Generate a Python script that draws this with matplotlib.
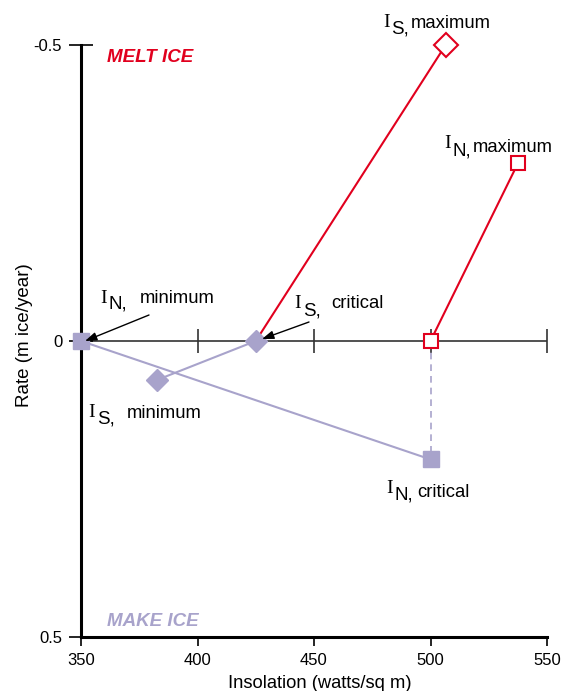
import matplotlib
matplotlib.use("Agg")
import matplotlib.pyplot as plt

plt.rcParams['font.family'] = ['Liberation Sans', 'DejaVu Sans']

# ---- data ----
xticks = [350, 400, 450, 500, 550]
yticks = [-0.5, 0, 0.5]
ytick_labels = ["-0.5", "0", "0.5"]

# I_N (north) : minimum, critical, maximum
in_min = (350, 0.0)
in_crit = (500, 0.2)
in_crit_zero = (500, 0.0)
in_max = (537.5, -0.3)
# I_S (south)
is_min = (382.5, 0.066)
is_crit = (425, 0.0)
is_max = (506.5, -0.5)

RED = "#E1001E"
PURPLE = "#A8A3CB"
W, H = 562, 691

fig = plt.figure(figsize=(W / 100, H / 100), dpi=100)
ax = fig.add_axes([81 / W, 1 - 637 / H, (547 - 81) / W, (637 - 45) / H])

ax.set_xlim(350, 550)
ax.set_ylim(0.5, -0.5)

# zero line with cross ticks
ax.axhline(0, color="#333333", lw=1.2, zorder=1)
ax.plot(xticks[1:], [0] * (len(xticks) - 1), ls="none", marker="|",
        ms=17, mew=1.2, color="#333333", zorder=1)

# purple (make ice) lines
ax.plot([in_min[0], in_crit[0]], [in_min[1], in_crit[1]], color=PURPLE, lw=1.5, zorder=2)
ax.plot([is_min[0], is_crit[0]], [is_min[1], is_crit[1]], color=PURPLE, lw=1.5, zorder=2)
ax.plot([in_crit_zero[0], in_crit[0]], [in_crit_zero[1], in_crit[1]], color=PURPLE,
        lw=1.2, ls=(0, (4, 3)), zorder=2)
# red (melt ice) lines
ax.plot([is_crit[0], is_max[0]], [is_crit[1], is_max[1]], color=RED, lw=1.5, zorder=2)
ax.plot([in_crit_zero[0], in_max[0]], [in_crit_zero[1], in_max[1]], color=RED, lw=1.5, zorder=2)

# markers
ax.plot([in_min[0], in_crit[0]], [in_min[1], in_crit[1]], ls="none", marker="s",
        ms=12, color=PURPLE, mec=PURPLE, zorder=4, clip_on=False)
ax.plot([is_min[0], is_crit[0]], [is_min[1], is_crit[1]], ls="none", marker="D",
        ms=11.5, color=PURPLE, mec=PURPLE, zorder=4, clip_on=False)
ax.plot([in_crit_zero[0], in_max[0]], [in_crit_zero[1], in_max[1]], ls="none", marker="s",
        ms=10, mfc="white", mec=RED, mew=1.5, zorder=4, clip_on=False)
ax.plot([is_max[0]], [is_max[1]], ls="none", marker="D",
        ms=12, mfc="white", mec=RED, mew=1.5, zorder=4, clip_on=False)

# spines / ticks
for s in ["top", "right"]:
    ax.spines[s].set_visible(False)
ax.spines["left"].set_linewidth(2.2)
ax.spines["bottom"].set_linewidth(2.2)
ax.set_xticks(xticks)
ax.set_xticklabels([str(v) for v in xticks])
ax.set_yticks(yticks)
ax.set_yticklabels(ytick_labels)
ax.tick_params(axis="y", direction="inout", length=17, width=1.2, pad=5, labelsize=12)
ax.tick_params(axis="x", direction="out", length=6.5, width=1.2, pad=5, labelsize=12)
ax.set_xlabel("Insolation (watts/sq m)", fontsize=13.2)
ax.set_ylabel("Rate (m ice/year)", fontsize=13.5)
ax.xaxis.set_label_coords(0.512, -0.064)
ax.yaxis.set_label_coords(-0.103, 0.51)

# region labels
def fp(px, py):
    return px / W, 1 - py / H

fig.text(*fp(107, 57), "MELT ICE", color=RED, fontsize=13.5, fontweight="bold",
         fontstyle="italic", va="center", ha="left")
fig.text(*fp(107, 621), "MAKE ICE", color=PURPLE, fontsize=13.5, fontweight="bold",
         fontstyle="italic", va="center", ha="left")

# point labels: (I left/baseline, sub left/baseline, word left/baseline) in pixels
labels = [
    ("N,", "minimum", (100, 303), (109, 309), (140, 303)),
    ("S,", "minimum", (88, 417), (97, 424), (127, 418)),
    ("S,", "critical", (294, 308), (303, 315), (331, 308)),
    ("N,", "critical", (386, 493), (394, 500), (417, 497)),
    ("S,", "maximum", (383, 27), (391, 34), (411, 28)),
    ("N,", "maximum", (444, 148), (453, 155), (473, 152)),
]
for sub, word, pi, ps, pw in labels:
    fig.text(*fp(*pi), "I", family="Liberation Serif", fontsize=14, va="baseline", ha="left")
    fig.text(*fp(*ps), sub, fontsize=13.5, va="baseline", ha="left")
    fig.text(*fp(*pw), word, fontsize=13.3, va="baseline", ha="left")

# arrows (pixel positions -> data)
def d(px, py):
    return ax.transData.inverted().transform((px, H - py))

arrowprops = dict(arrowstyle="-|>,head_length=0.7,head_width=0.25", color="black", lw=1.0,
                  shrinkA=0, shrinkB=0)
ax.annotate("", xy=d(85, 341), xytext=d(149, 315), arrowprops=arrowprops, zorder=5)
ax.annotate("", xy=d(262, 339), xytext=d(309, 322), arrowprops=arrowprops, zorder=5)

fig.savefig("out.png", dpi=100)
